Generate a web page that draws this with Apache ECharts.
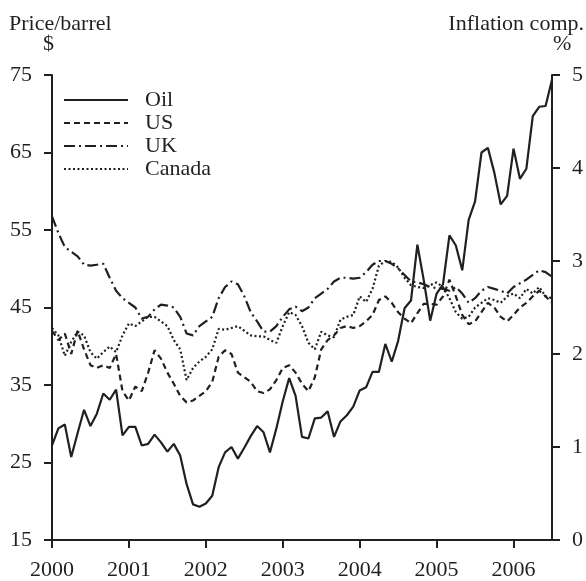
<!DOCTYPE html>
<html>
<head>
<meta charset="utf-8">
<script src="https://cdn.jsdelivr.net/npm/echarts@6/dist/echarts.min.js"></script>
<style>
  html, body { margin: 0; padding: 0; background: #fff; }
  #chart { width: 586px; height: 581px; }
</style>
</head>
<body>
<div id="chart"></div>
<script>
// monthly, Jan 2000 - Jul 2006
const months = []
for (let y = 2000; y <= 2006; y++) {
    for (let m = 1; m <= 12; m++) {
        if (y === 2006 && m > 7) break
        months.push(y + '-' + (m < 10 ? '0' + m : m))
    }
}

// $ per barrel (left axis)
const oil = [
    27.2, 29.4, 29.9, 25.7, 28.8, 31.8, 29.7, 31.3, 33.9, 33.1, 34.4, 28.5,
    29.6, 29.6, 27.2, 27.4, 28.6, 27.6, 26.4, 27.4, 25.9, 22.2, 19.6, 19.3,
    19.7, 20.7, 24.4, 26.3, 27.0, 25.5, 26.9, 28.4, 29.7, 28.9, 26.3, 29.4,
    32.9, 35.9, 33.6, 28.3, 28.1, 30.7, 30.8, 31.6, 28.3, 30.3, 31.1, 32.2,
    34.3, 34.7, 36.7, 36.7, 40.3, 38.0, 40.7, 44.9, 45.9, 53.1, 48.5, 43.3,
    46.8, 48.0, 54.3, 53.0, 49.8, 56.3, 58.7, 65.0, 65.6, 62.4, 58.3, 59.4,
    65.5, 61.6, 62.9, 69.7, 70.9, 71.0, 74.4
]

// inflation compensation, % (right axis)
const us = [
    2.25, 2.15, 2.22, 2.00, 2.25, 2.05, 1.88, 1.85, 1.88, 1.85, 2.00, 1.60,
    1.50, 1.65, 1.60, 1.80, 2.04, 1.95, 1.80, 1.68, 1.55, 1.48, 1.50, 1.55,
    1.60, 1.70, 1.97, 2.04, 2.00, 1.80, 1.75, 1.70, 1.60, 1.58, 1.62, 1.72,
    1.85, 1.88, 1.80, 1.68, 1.60, 1.75, 2.05, 2.15, 2.20, 2.28, 2.30, 2.28,
    2.30, 2.35, 2.42, 2.58, 2.62, 2.55, 2.45, 2.38, 2.33, 2.44, 2.54, 2.54,
    2.53, 2.62, 2.80, 2.62, 2.42, 2.32, 2.35, 2.45, 2.55, 2.50, 2.40, 2.35,
    2.42, 2.50, 2.55, 2.62, 2.68, 2.62, 2.55
]
const uk = [
    3.48, 3.30, 3.15, 3.10, 3.05, 2.96, 2.95, 2.96, 2.97, 2.82, 2.68, 2.60,
    2.55, 2.50, 2.38, 2.40, 2.48, 2.53, 2.52, 2.50, 2.40, 2.22, 2.20, 2.30,
    2.35, 2.40, 2.60, 2.72, 2.78, 2.75, 2.62, 2.45, 2.35, 2.24, 2.24, 2.30,
    2.40, 2.48, 2.51, 2.46, 2.50, 2.60, 2.65, 2.70, 2.78, 2.82, 2.82, 2.81,
    2.82, 2.88, 2.96, 3.00, 3.00, 2.97, 2.92, 2.85, 2.78, 2.77, 2.75, 2.72,
    2.71, 2.70, 2.68, 2.72, 2.65, 2.55, 2.60, 2.68, 2.72, 2.70, 2.68, 2.65,
    2.72, 2.76, 2.80, 2.85, 2.90, 2.88, 2.83
]
const canada = [
    2.28, 2.20, 1.98, 2.13, 2.24, 2.20, 2.02, 1.95, 2.02, 2.08, 2.02, 2.20,
    2.33, 2.30, 2.35, 2.40, 2.40, 2.35, 2.30, 2.15, 2.05, 1.72, 1.85, 1.92,
    1.97, 2.05, 2.27, 2.26, 2.28, 2.30, 2.25, 2.20, 2.19, 2.19, 2.15, 2.12,
    2.30, 2.45, 2.42, 2.30, 2.12, 2.05, 2.24, 2.20, 2.18, 2.37, 2.40, 2.42,
    2.62, 2.56, 2.70, 2.95, 3.00, 2.99, 2.93, 2.82, 2.74, 2.72, 2.71, 2.74,
    2.77, 2.72, 2.60, 2.45, 2.38, 2.40, 2.50, 2.55, 2.60, 2.58, 2.55, 2.62,
    2.65, 2.60, 2.70, 2.65, 2.72, 2.62, 2.60
]

const ink = '#231f20'
const font = 'Liberation Serif'

const chart = echarts.init(document.getElementById('chart'))

function lineSeries(name, data, yIdx, type) {
    return {
        name: name,
        type: 'line',
        yAxisIndex: yIdx,
        data: data,
        symbol: 'none',
        smooth: false,
        lineStyle: { color: ink, width: 2.2, type: type },
        itemStyle: { color: ink }
    }
}

chart.setOption({
    backgroundColor: '#fff',
    animation: false,
    textStyle: { fontFamily: font },
    grid: { left: 52, right: 33, top: 75, bottom: 41, containLabel: false },
    legend: {
        orient: 'vertical',
        left: 63,
        top: 89,
        padding: 0,
        itemWidth: 64,
        itemHeight: 14,
        itemGap: 1,
        itemStyle: { opacity: 0 },
        textStyle: { fontSize: 22, color: ink, fontFamily: font, lineHeight: 22, padding: [0, 0, 0, 12] },
        data: ['Oil', 'US', 'UK', 'Canada']
    },
    graphic: [
        { type: 'text', left: 9, top: 13, style: { text: 'Price/barrel', fontSize: 22, fontFamily: font, fill: ink } },
        { type: 'text', left: 43, top: 33, style: { text: '$', fontSize: 22, fontFamily: font, fill: ink } },
        { type: 'text', right: 2, top: 13, style: { text: 'Inflation comp.', fontSize: 22, fontFamily: font, fill: ink } },
        { type: 'text', left: 553, top: 33, style: { text: '%', fontSize: 22, fontFamily: font, fill: ink } }
    ],
    xAxis: {
        type: 'category',
        data: months,
        boundaryGap: false,
        axisLine: { lineStyle: { color: ink, width: 2 } },
        axisTick: {
            interval: function (i) { return i % 12 === 0 },
            length: 8,
            lineStyle: { color: ink, width: 2 }
        },
        axisLabel: {
            interval: function (i) { return i % 12 === 0 },
            formatter: function (v) { return v.slice(0, 4) },
            fontSize: 22,
            fontFamily: font,
            color: ink,
            margin: 19
        },
        splitLine: { show: false }
    },
    yAxis: [{
        type: 'value',
        min: 15,
        max: 75,
        interval: 10,
        position: 'left',
        axisLine: { show: true, lineStyle: { color: ink, width: 2 } },
        axisTick: { show: true, length: 8, lineStyle: { color: ink, width: 2 } },
        axisLabel: { fontSize: 22, fontFamily: font, color: ink, margin: 20 },
        splitLine: { show: false }
    }, {
        type: 'value',
        min: 0,
        max: 5,
        interval: 1,
        position: 'right',
        axisLine: { show: true, lineStyle: { color: ink, width: 2 } },
        axisTick: { show: true, length: 8, lineStyle: { color: ink, width: 2 } },
        axisLabel: { fontSize: 22, fontFamily: font, color: ink, margin: 20 },
        splitLine: { show: false }
    }],
    series: [
        lineSeries('Oil', oil, 0, 'solid'),
        lineSeries('US', us, 1, [6, 4]),
        lineSeries('UK', uk, 1, [11, 4, 2, 4]),
        lineSeries('Canada', canada, 1, [2, 2.5])
    ]
})
</script>
</body>
</html>
